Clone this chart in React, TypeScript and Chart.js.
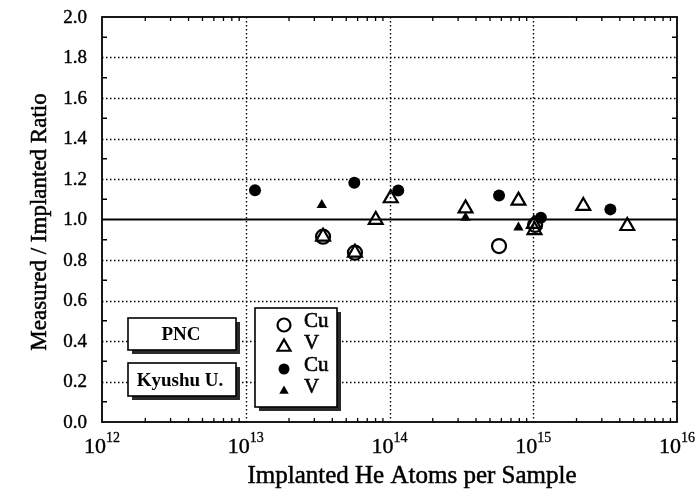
import React, { useEffect, useRef } from 'react';
import { Chart, registerables } from 'chart.js';
Chart.register(...registerables);

// PNC (open markers)
const pncCuX = [3.45e13, 5.75e13, 5.78e14, 1.03e15];
const pncCuY = [0.915, 0.836, 0.869, 0.973];
const pncVX = [3.45e13, 5.75e13, 8.02e13, 1.02e14, 3.38e14, 7.89e14, 1.01e15, 1.02e15, 2.23e15, 4.51e15];
const pncVY = [0.915, 0.836, 0.998, 1.105, 1.055, 1.093, 0.978, 0.948, 1.067, 0.968];
// Kyushu U. (filled markers)
const kyuCuX = [1.16e13, 5.69e13, 1.15e14, 5.78e14, 1.13e15, 3.44e15];
const kyuCuY = [1.144, 1.182, 1.143, 1.119, 1.009, 1.05];
const kyuVX = [3.38e13, 3.38e14, 7.89e14];
const kyuVY = [1.072, 1.009, 0.961];

const xExponents = [12, 13, 14, 15, 16];
const yTickValues = [0, 0.2, 0.4, 0.6, 0.8, 1.0, 1.2, 1.4, 1.6, 1.8, 2.0];
const yMinorValues = [0.1, 0.3, 0.5, 0.7, 0.9, 1.1, 1.3, 1.5, 1.7, 1.9];
const refLine = 1.0;

const xTitle = 'Implanted He Atoms per Sample';
const yTitle = 'Measured / Implanted Ratio';
const legendLabels = ['Cu', 'V', 'Cu', 'V'];
const groupLabels = ['PNC', 'Kyushu U.'];

const SERIF = '"Liberation Serif", "Times New Roman", serif';

const pts = (xs: number[], ys: number[]) => xs.map((x, i) => ({ x, y: ys[i] }));

function heavyText(ctx: CanvasRenderingContext2D, t: string, x: number, y: number, sw = 0.5) {
  ctx.fillText(t, x, y);
  ctx.lineWidth = sw;
  ctx.strokeStyle = '#000';
  ctx.strokeText(t, x, y);
}

function drawMarker(ctx: CanvasRenderingContext2D, style: string, filled: boolean, x: number, y: number, r: number) {
  ctx.save();
  ctx.beginPath();
  if (style === 'circle') {
    ctx.arc(x, y, r, 0, Math.PI * 2);
  } else {
    let rad = 0;
    ctx.moveTo(x + Math.sin(rad) * r, y - Math.cos(rad) * r);
    rad += (2 * Math.PI) / 3;
    ctx.lineTo(x + Math.sin(rad) * r, y - Math.cos(rad) * r);
    rad += (2 * Math.PI) / 3;
    ctx.lineTo(x + Math.sin(rad) * r, y - Math.cos(rad) * r);
    ctx.closePath();
  }
  if (filled) {
    ctx.fillStyle = '#000';
    ctx.fill();
  } else {
    ctx.lineWidth = 2.2;
    ctx.strokeStyle = '#000';
    ctx.stroke();
  }
  ctx.restore();
}

function shadowBox(ctx: CanvasRenderingContext2D, x: number, y: number, w: number, h: number) {
  ctx.save();
  ctx.fillStyle = '#2a2a2a';
  ctx.fillRect(x + 4, y + 4, w, h);
  ctx.fillStyle = '#fff';
  ctx.fillRect(x, y, w, h);
  ctx.lineWidth = 1.6;
  ctx.strokeStyle = '#000';
  ctx.strokeRect(x, y, w, h);
  ctx.restore();
}

const framePlugin = {
  id: 'framePlugin',
  beforeDatasetsDraw(chart: any) {
    const { ctx, chartArea: a, scales } = chart;
    const xs = scales.x;
    const ys = scales.y;
    ctx.save();
    ctx.strokeStyle = '#000';
    // dotted grid
    ctx.lineWidth = 1.4;
    ctx.setLineDash([1.5, 2.5]);
    xExponents.slice(1, -1).forEach((e) => {
      const px = Math.round(xs.getPixelForValue(Math.pow(10, e))) + 0.5;
      ctx.beginPath();
      ctx.moveTo(px, a.top);
      ctx.lineTo(px, a.bottom);
      ctx.stroke();
    });
    yTickValues.slice(1, -1).forEach((v) => {
      if (v === refLine) return;
      const py = Math.round(ys.getPixelForValue(v)) + 0.5;
      ctx.beginPath();
      ctx.moveTo(a.left, py);
      ctx.lineTo(a.right, py);
      ctx.stroke();
    });
    ctx.setLineDash([]);
    // reference line
    ctx.lineWidth = 1.8;
    const py1 = ys.getPixelForValue(refLine);
    ctx.beginPath();
    ctx.moveTo(a.left, py1);
    ctx.lineTo(a.right, py1);
    ctx.stroke();
    // minor ticks
    ctx.lineWidth = 1.3;
    xExponents.slice(0, -1).forEach((e) => {
      for (let k = 2; k <= 9; k++) {
        const px = xs.getPixelForValue(k * Math.pow(10, e));
        ctx.beginPath();
        ctx.moveTo(px, a.bottom);
        ctx.lineTo(px, a.bottom - 4);
        ctx.moveTo(px, a.top);
        ctx.lineTo(px, a.top + 4);
        ctx.stroke();
      }
    });
    yMinorValues.forEach((v) => {
      const py = ys.getPixelForValue(v);
      ctx.beginPath();
      ctx.moveTo(a.left, py);
      ctx.lineTo(a.left + 5, py);
      ctx.moveTo(a.right, py);
      ctx.lineTo(a.right - 5, py);
      ctx.stroke();
    });
    // frame
    ctx.lineWidth = 1.8;
    ctx.strokeRect(a.left, a.top, a.right - a.left, a.bottom - a.top);
    ctx.restore();
  },
  afterDatasetsDraw(chart: any) {
    const { ctx, scales } = chart;
    const xs = scales.x;
    const ys = scales.y;
    ctx.save();
    ctx.fillStyle = '#000';
    // y tick labels
    ctx.font = `19px ${SERIF}`;
    ctx.textAlign = 'right';
    ctx.textBaseline = 'middle';
    yTickValues.forEach((v) => {
      heavyText(ctx, v.toFixed(1), 87, ys.getPixelForValue(v) + 1, 0.4);
    });
    // x tick labels with superscripts
    ctx.textBaseline = 'alphabetic';
    xExponents.forEach((e) => {
      const px = xs.getPixelForValue(Math.pow(10, e));
      ctx.font = `22px ${SERIF}`;
      const w1 = ctx.measureText('10').width;
      ctx.font = `14px ${SERIF}`;
      const w2 = ctx.measureText(String(e)).width;
      const x0 = px - (w1 + w2) / 2;
      ctx.textAlign = 'left';
      ctx.font = `22px ${SERIF}`;
      heavyText(ctx, '10', x0, 453, 0.4);
      ctx.font = `14px ${SERIF}`;
      heavyText(ctx, String(e), x0 + w1, 442, 0.3);
    });
    // axis titles
    ctx.font = `25px ${SERIF}`;
    ctx.textAlign = 'center';
    heavyText(ctx, xTitle, 412, 483, 0.5);
    ctx.save();
    ctx.translate(46, 222);
    ctx.rotate(-Math.PI / 2);
    ctx.font = `23px ${SERIF}`;
    heavyText(ctx, yTitle, 0, 0, 0.5);
    ctx.restore();

    // group boxes
    shadowBox(ctx, 128, 318, 108, 32);
    shadowBox(ctx, 128, 363, 108, 33);
    ctx.fillStyle = '#000';
    ctx.font = `bold 19px ${SERIF}`;
    ctx.textAlign = 'center';
    ctx.fillText(groupLabels[0], 181, 340);
    ctx.fillText(groupLabels[1], 180, 386);

    // marker legend box
    shadowBox(ctx, 255, 308, 82, 99);
    const rows = [
      { style: 'circle', filled: false, y: 325, r: 6.5 },
      { style: 'triangle', filled: false, y: 347, r: 7.5 },
      { style: 'circle', filled: true, y: 369, r: 5.5 },
      { style: 'triangle', filled: true, y: 391, r: 5.5 },
    ];
    ctx.fillStyle = '#000';
    ctx.font = `21px ${SERIF}`;
    ctx.textAlign = 'left';
    rows.forEach((r, i) => {
      drawMarker(ctx, r.style, r.filled, 284, r.y, r.r);
      heavyText(ctx, legendLabels[i], 304, r.y + 2, 0.6);
    });
    ctx.restore();
  },
};

export default function App() {
  const ref = useRef<HTMLCanvasElement>(null);
  useEffect(() => {
    document.body.style.margin = '0';
    const chart = new Chart(ref.current as HTMLCanvasElement, {
      type: 'scatter',
      data: {
        datasets: [
          {
            label: 'PNC Cu',
            data: pts(pncCuX, pncCuY),
            pointStyle: 'circle',
            pointRadius: 7,
            backgroundColor: 'rgba(0,0,0,0)',
            borderColor: '#000',
            borderWidth: 2.2,
          },
          {
            label: 'PNC V',
            data: pts(pncVX, pncVY),
            pointStyle: 'triangle',
            pointRadius: 8,
            backgroundColor: 'rgba(0,0,0,0)',
            borderColor: '#000',
            borderWidth: 2.2,
          },
          {
            label: 'Kyushu U. Cu',
            data: pts(kyuCuX, kyuCuY),
            pointStyle: 'circle',
            pointRadius: 6,
            backgroundColor: '#000',
            borderColor: '#000',
            borderWidth: 0,
          },
          {
            label: 'Kyushu U. V',
            data: pts(kyuVX, kyuVY),
            pointStyle: 'triangle',
            pointRadius: 6,
            backgroundColor: '#000',
            borderColor: '#000',
            borderWidth: 0,
          },
        ],
      },
      options: {
        responsive: false,
        animation: false,
        devicePixelRatio: 1,
        layout: { padding: { top: 17, right: 19, left: 0, bottom: 0 } },
        plugins: { legend: { display: false }, tooltip: { enabled: false } },
        scales: {
          x: {
            type: 'logarithmic',
            min: 1e12,
            max: 1e16,
            ticks: { display: false },
            grid: { display: false, drawTicks: false },
            border: { display: false },
            afterFit: (s: any) => {
              s.height = 67;
            },
          },
          y: {
            type: 'linear',
            min: 0,
            max: 2,
            ticks: { display: false },
            grid: { display: false, drawTicks: false },
            border: { display: false },
            afterFit: (s: any) => {
              s.width = 102;
            },
          },
        },
      },
      plugins: [framePlugin],
    } as any);
    return () => chart.destroy();
  }, []);
  return (
    <div style={{ width: 696, height: 489, background: '#fff' }}>
      <canvas ref={ref} width={696} height={489} style={{ display: 'block' }} />
    </div>
  );
}
